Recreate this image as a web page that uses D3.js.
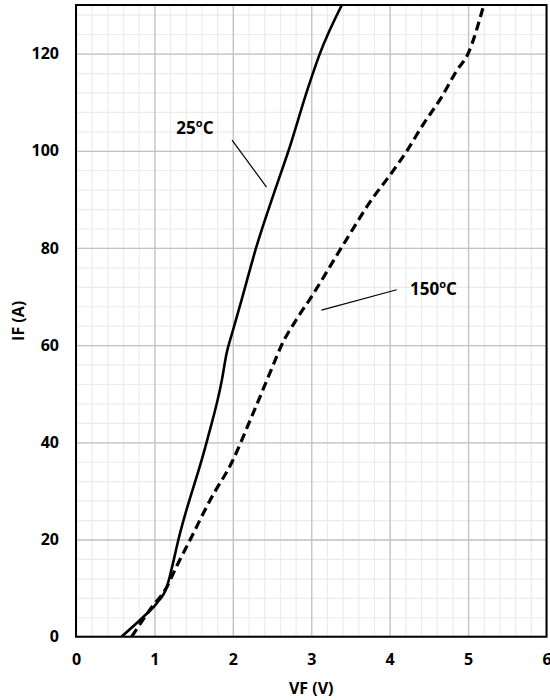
<!DOCTYPE html>
<html>
<head>
<meta charset="utf-8">
<script src="https://cdn.jsdelivr.net/npm/d3@7"></script>
<style>
  body { margin: 0; background: #fff; }
  text { font-family: "Open Sans", sans-serif; font-weight: 700; fill: #000; }
</style>
</head>
<body>
<div id="chart"></div>
<script>
'use strict';

// VF (V) / IF (A)
const vf25 = [0.58, 0.86, 1.03, 1.16, 1.22, 1.305, 1.667, 1.86, 1.92, 1.99, 2.11, 2.30, 2.54, 2.71, 2.96, 3.11, 3.39]
const if25 = [0, 4.1, 6.9, 10.3, 14, 19.9, 40.1, 52.8, 58.3, 62.4, 69.2, 80.2, 92, 100, 113, 120, 130]

const vf150 = [0.71, 0.94, 1.16, 1.28, 1.454, 1.71, 2.00, 2.22, 2.54, 2.61, 2.80, 3.00, 3.39, 3.79, 4.00, 4.22, 4.43, 4.66, 4.855, 5.00, 5.20]
const if150 = [0, 5.5, 10.3, 14.4, 19.9, 28.1, 36.3, 44.5, 56.9, 59.6, 65, 69.9, 80.2, 90.4, 94.9, 100, 105.5, 111, 116.5, 120, 130]

const xTicks = [0, 1, 2, 3, 4, 5, 6]
const yTicks = [0, 20, 40, 60, 80, 100, 120]

// annotation labels: text anchor and leader line, in data units
const noteTemps = ["25", "150"]
const noteText = [[1.28, 103.5], [4.26, 70.3]]
const noteLine = [[[1.99, 102.2], [2.43, 92.5]], [[4.09, 71.4], [3.13, 67.2]]]

;(function() {

    const m = { top: 5, right: 3.5, bottom: 63.3, left: 76 }
    const width = 550, height = 700
    const w = width - m.left - m.right
    const h = height - m.top - m.bottom

    window.onload = function() {
        let svg = d3.select("#chart").append("svg")
            .attr("width", width)
            .attr("height", height)

        let g = svg.append("g")
            .attr("transform", "translate(" + m.left + "," + m.top + ")")

        let x = d3.scaleLinear().domain([0, 6]).range([0, w])
        let y = d3.scaleLinear().domain([0, 130]).range([h, 0])

        // minor grid
        g.append("g")
            .attr("transform", "translate(0," + h + ")")
            .call(d3.axisBottom(x).tickValues(d3.range(0, 6.001, 0.2)).tickSize(-h).tickFormat(""))
            .call(a => a.select(".domain").remove())
            .selectAll("line").attr("stroke", "#ececec").attr("stroke-width", 1.2)
        g.append("g")
            .call(d3.axisLeft(y).tickValues(d3.range(0, 131, 4)).tickSize(-w).tickFormat(""))
            .call(a => a.select(".domain").remove())
            .selectAll("line").attr("stroke", "#ececec").attr("stroke-width", 1.2)

        // major grid
        g.append("g")
            .attr("transform", "translate(0," + h + ")")
            .call(d3.axisBottom(x).tickValues(xTicks).tickSize(-h).tickFormat(""))
            .call(a => a.select(".domain").remove())
            .selectAll("line").attr("stroke", "#c2c2c2").attr("stroke-width", 1.3)
        g.append("g")
            .call(d3.axisLeft(y).tickValues(yTicks).tickSize(-w).tickFormat(""))
            .call(a => a.select(".domain").remove())
            .selectAll("line").attr("stroke", "#c2c2c2").attr("stroke-width", 1.3)

        // tick labels
        g.append("g")
            .attr("transform", "translate(0," + h + ")")
            .call(d3.axisBottom(x).tickValues(xTicks).tickSize(0).tickPadding(17).tickFormat(d3.format("d")))
            .call(a => a.select(".domain").remove())
            .selectAll("text").style("font-size", "16px").style("font-family", "Open Sans").style("font-weight", 700)
        g.append("g")
            .call(d3.axisLeft(y).tickValues(yTicks).tickSize(0).tickPadding(17).tickFormat(d3.format("d")))
            .call(a => a.select(".domain").remove())
            .selectAll("text").style("font-size", "16px").style("font-family", "Open Sans").style("font-weight", 700)

        svg.append("clipPath").attr("id", "plot")
            .append("rect").attr("width", w).attr("height", h)

        let line = d3.line()
            .x(d => x(d[0]))
            .y(d => y(d[1]))
            .curve(d3.curveMonotoneX)

        let curves = g.append("g").attr("clip-path", "url(#plot)")
        curves.append("path")
            .datum(d3.zip(vf25, if25))
            .attr("d", line)
            .attr("fill", "none")
            .attr("stroke", "#000")
            .attr("stroke-width", 2.6)
        curves.append("path")
            .datum(d3.zip(vf150, if150))
            .attr("d", line)
            .attr("fill", "none")
            .attr("stroke", "#000")
            .attr("stroke-width", 3.2)
            .attr("stroke-dasharray", "9,5")

        // frame
        g.append("rect")
            .attr("width", w)
            .attr("height", h)
            .attr("fill", "none")
            .attr("stroke", "#000")
            .attr("stroke-width", 2)

        // annotations
        noteTemps.forEach(function(t, i) {
            g.append("line")
                .attr("x1", x(noteLine[i][0][0])).attr("y1", y(noteLine[i][0][1]))
                .attr("x2", x(noteLine[i][1][0])).attr("y2", y(noteLine[i][1][1]))
                .attr("stroke", "#000")
                .attr("stroke-width", 1.2)
            let txt = g.append("text")
                .attr("x", x(noteText[i][0]))
                .attr("y", y(noteText[i][1]))
                .style("font-size", "17px")
            txt.append("tspan").text(t)
            txt.append("tspan").attr("dy", -7).style("font-size", "11px").text("o")
            txt.append("tspan").attr("dy", 7).text("C")
        })

        // axis titles
        svg.append("text")
            .attr("x", m.left + w / 2)
            .attr("y", 694)
            .attr("text-anchor", "middle")
            .style("font-size", "16px")
            .text("VF (V)")
        svg.append("text")
            .attr("transform", "translate(24," + (m.top + h / 2) + ") rotate(-90)")
            .attr("text-anchor", "middle")
            .style("font-size", "16px")
            .text("IF (A)")
    }
})()
</script>
</body>
</html>
